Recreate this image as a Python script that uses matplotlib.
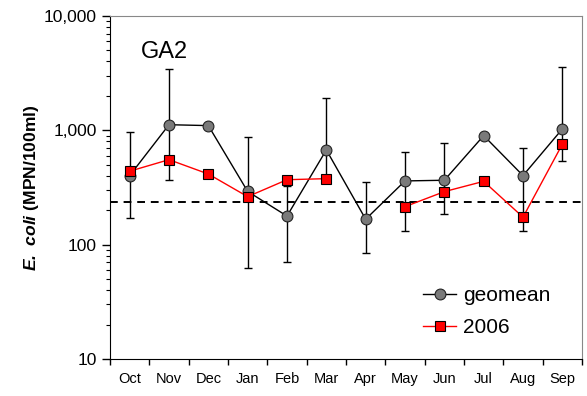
import numpy as np
import matplotlib
matplotlib.use("Agg")
import matplotlib.pyplot as plt
from matplotlib.ticker import FixedLocator, FuncFormatter, LogLocator, NullFormatter

plt.rcParams["font.family"] = ["Liberation Sans", "DejaVu Sans"]
plt.rcParams["mathtext.fontset"] = "custom"
plt.rcParams["mathtext.bf"] = "Liberation Sans:bold:italic"

# -- Data -------------------------------------------------------------
months = ["Oct", "Nov", "Dec", "Jan", "Feb", "Mar", "Apr", "May", "Jun", "Jul", "Aug", "Sep"]
geomean = [402, 1120, 1100, 292, 178, 674, 167, 361, 366, 899, 402, 1028]
err_hi = [962, 3445, np.nan, 881, 328, 1910, 356, 651, 776, np.nan, 706, 3586]
err_lo = [170, 368, np.nan, 63, 70, 370, 85, 132, 186, np.nan, 132, 543]
y2006 = [439, 554, 415, 263, 370, 378, np.nan, 215, 291, 358, 174, 756]
standard = 235

x = np.arange(len(months))
gm = np.array(geomean, dtype=float)
yerr = np.vstack([gm - np.array(err_lo, dtype=float), np.array(err_hi, dtype=float) - gm])

fig = plt.figure(figsize=(5.87, 3.96), dpi=100)
ax = fig.add_axes([0.1874, 0.0934, 0.8041, 0.8662])

ax.axhline(standard, color="black", lw=1.4, ls=(0, (4, 3)), zorder=1)

ax.errorbar(x, gm, yerr=yerr, fmt="none", ecolor="black", elinewidth=1,
            capsize=3, capthick=1, zorder=2)
ax.plot(x, gm, color="black", lw=1, marker="o", ms=7.8, mfc="#7a7a7a",
        mec="#222222", mew=0.8, label="geomean", zorder=3)
ax.plot(x, y2006, color="red", lw=1, marker="s", ms=7.2, mfc="red",
        mec="black", mew=0.8, label="2006", zorder=4)

ax.set_yscale("log")
ax.set_ylim(10, 10000)
ax.set_xlim(-0.5, len(months) - 0.5)

ax.yaxis.set_major_locator(FixedLocator([10, 100, 1000, 10000]))
ax.yaxis.set_major_formatter(FuncFormatter(lambda v, p: f"{int(v):,}"))
ax.yaxis.set_minor_locator(LogLocator(base=10, subs=np.arange(2, 10)))
ax.yaxis.set_minor_formatter(NullFormatter())
ax.tick_params(axis="y", which="major", direction="out", length=6, width=1, labelsize=12.5)
ax.tick_params(axis="y", which="minor", direction="out", length=3, width=0.8)

ax.set_xticks(x)
ax.set_xticklabels(months)
ax.set_xticks(np.arange(-0.5, len(months)), minor=True)
ax.tick_params(axis="x", which="major", length=0, labelsize=10.5, pad=9)
ax.tick_params(axis="x", which="minor", direction="out", length=4, width=1)

for side in ["top", "right"]:
    ax.spines[side].set_color("#888888")
for side in ["left", "bottom"]:
    ax.spines[side].set_color("black")

ax.set_ylabel(r"$\mathbf{E.\ coli}$ (MPN/100ml)", fontsize=12.6, fontweight="bold", labelpad=2)
ax.text(0.065, 0.895, "GA2", transform=ax.transAxes, fontsize=17, ha="left", va="center")

ax.legend(loc="lower right", bbox_to_anchor=(0.95, 0.04), frameon=False, fontsize=15,
          handlelength=1.6, handletextpad=0.3, labelspacing=0.6, borderaxespad=0)

plt.savefig("out.png", dpi=100)
plt.close()
